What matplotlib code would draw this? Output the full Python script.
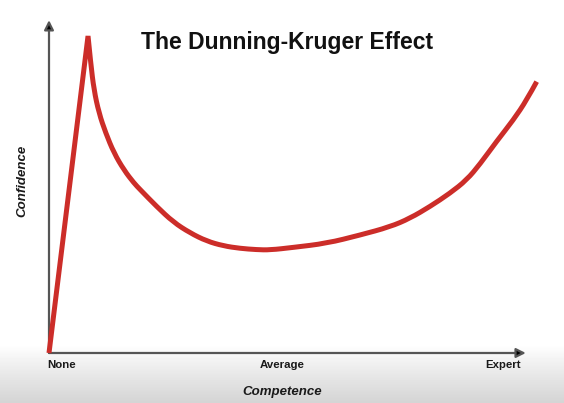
import numpy as np
import matplotlib
matplotlib.use("Agg")
import matplotlib.pyplot as plt
from matplotlib.path import Path
from matplotlib.patches import PathPatch

# Data (competence 0-100, confidence 0-100)
competence = [0, 7.98, 8.53, 9.20, 10.22, 11.60, 13.29, 15.34, 17.38, 18.61,
              22.02, 25.42, 28.83, 32.25, 35.64, 39.06, 42.47, 45.19, 49.90,
              56.79, 63.60, 69.73, 73.82, 77.91, 82.00, 85.42, 88.14, 91.55,
              94.95, 97.69, 99.73]
confidence = [0, 100, 91.4, 83.0, 75.7, 69.4, 63.1, 57.7, 53.6, 51.6,
              46.2, 41.3, 37.9, 35.3, 33.8, 33.0, 32.6, 32.5, 33.3,
              34.6, 37.2, 39.8, 42.5, 46.2, 50.4, 54.6, 59.6, 66.8,
              73.5, 79.8, 85.6]
tick_positions = [2.5, 47.6, 92.8]
tick_labels = ["None", "Average", "Expert"]
title = "The Dunning-Kruger Effect"
xlabel = "Competence"
ylabel = "Confidence"

plt.rcParams['font.family'] = ['Liberation Sans', 'DejaVu Sans']

W, H = 564, 403
fig = plt.figure(figsize=(W / 100, H / 100), dpi=100)
fig.patch.set_facecolor('#fdfdfe')

# background gradient at the bottom
bg = fig.add_axes([0, 0, 1, 1], zorder=0)
bg.set_axis_off()
vals = np.ones(H)
start = 345
for i in range(H):
    if i > start:
        t = (i - start) / (H - start)
        vals[i] = 1 - 0.17 * t ** 0.9
img = np.repeat(vals[:, None], W, axis=1)
bg.imshow(img, cmap='gray', vmin=0, vmax=1, aspect='auto',
          extent=[0, W, H, 0], interpolation='bilinear')
bg.set_xlim(0, W)
bg.set_ylim(H, 0)

x0, y0 = 49, 353
x1, y1 = 538, 36
ax = fig.add_axes([x0 / W, (H - y0) / H, (x1 - x0) / W, (y0 - y1) / H], zorder=1)
ax.set_xlim(0, 100)
ax.set_ylim(0, 100)
ax.set_axis_off()
ax.patch.set_alpha(0)

# axes arrows
arrow_kw = dict(arrowstyle='-|>', color='#555555', lw=1.6, mutation_scale=14,
                shrinkA=0, shrinkB=0, fc='black', ec='#555555')
ax.annotate('', xy=(0, 105), xytext=(0, 0), xycoords='data',
            arrowprops=arrow_kw, annotation_clip=False)
ax.annotate('', xy=(97.5, 0), xytext=(0, 0), xycoords='data',
            arrowprops=arrow_kw, annotation_clip=False)

# curve: straight rise to the peak, then a smooth quadratic-Bezier path
pts = list(zip(competence, confidence))
verts = [pts[0], pts[1]]
codes = [Path.MOVETO, Path.LINETO]
tail = pts[1:]
for i in range(1, len(tail) - 1):
    mid = ((tail[i][0] + tail[i + 1][0]) / 2, (tail[i][1] + tail[i + 1][1]) / 2)
    if i == len(tail) - 2:
        mid = tail[i + 1]
    verts += [tail[i], mid]
    codes += [Path.CURVE3, Path.CURVE3]
path = Path(verts, codes)
ax.add_patch(PathPatch(path, facecolor='none', edgecolor='#cc2d29', lw=3.6,
                       joinstyle='miter', capstyle='butt', clip_on=False,
                       zorder=3))

for p, lab in zip(tick_positions, tick_labels):
    ax.text(p, -3.8, lab, ha='center', va='center', fontsize=8.2,
            fontweight='bold', color='#1a1a1a')

fig.text(287 / W, 1 - 42 / H, title, ha='center', va='center', fontsize=16.5,
         fontweight='bold', color='#111111')
fig.text(282 / W, 1 - 392 / H, xlabel, ha='center', va='center', fontsize=9.5,
         fontweight='bold', fontstyle='italic', color='#1a1a1a')
fig.text(22 / W, 1 - 181 / H, ylabel, ha='center', va='center', fontsize=9.5,
         fontweight='bold', fontstyle='italic', rotation=90, color='#1a1a1a')

fig.savefig('out.png', dpi=100)
